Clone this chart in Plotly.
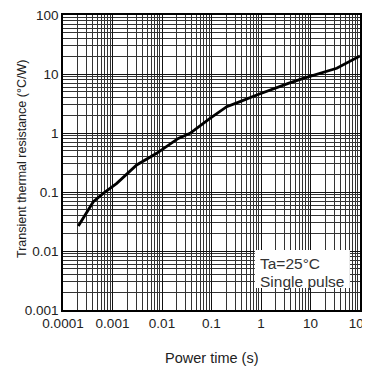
import plotly.graph_objects as go

power_time = [2.04e-4, 4.1e-4, 6.5e-4, 1.22e-3, 3.08e-3, 7.8e-3, 0.0213, 0.0368,
              0.0933, 0.203, 0.377, 0.82, 3.56, 7.16, 33.9, 100]
resistance = [0.0265, 0.0685, 0.095, 0.14, 0.287, 0.453, 0.81, 0.99,
              1.77, 2.79, 3.4, 4.41, 6.95, 8.45, 12.5, 20.2]

x_ticks = [0.0001, 0.001, 0.01, 0.1, 1, 10, 100]
x_labels = ["0.0001", "0.001", "0.01", "0.1", "1", "10", "100"]
y_ticks = [0.001, 0.01, 0.1, 1, 10, 100]
y_labels = ["0.001", "0.01", "0.1", "1", "10", "100"]

fig = go.Figure()
fig.add_trace(go.Scatter(x=power_time, y=resistance, mode="lines",
                         line=dict(color="black", width=2.8),
                         showlegend=False))

font = dict(family="Liberation Sans, Arial, sans-serif", color="#222", size=13.5)

# page body has an 8px margin, so the figure is sized 8px smaller
fig.update_layout(
    width=362, height=363,
    margin=dict(l=55, r=10, t=7, b=61),
    paper_bgcolor="white", plot_bgcolor="white",
    font=font,
    xaxis=dict(type="log", range=[-4, 2], tickvals=x_ticks, ticktext=x_labels,
               automargin=False, ticklabeloverflow="allow",
               showgrid=True, gridcolor="#111", gridwidth=1,
               minor=dict(dtick="D1", showgrid=True, gridcolor="#333", gridwidth=1),
               showline=True, linecolor="black", linewidth=1.5, mirror=True,
               ticks="", ticklen=0),
    yaxis=dict(type="log", range=[-3, 2], tickvals=y_ticks, ticktext=y_labels,
               automargin=False, ticklabeloverflow="allow",
               showgrid=True, gridcolor="#111", gridwidth=1,
               minor=dict(dtick="D1", showgrid=True, gridcolor="#333", gridwidth=1),
               showline=True, linecolor="black", linewidth=1.5, mirror=True,
               ticks="", ticklen=0),
    shapes=[dict(type="rect", xref="paper", yref="paper",
                 x0=0.646, x1=0.966, y0=0.0746, y1=0.203,
                 fillcolor="white", line=dict(width=0), layer="above")],
    annotations=[
        dict(x=0.5, y=-0.163, xref="paper", yref="paper", xanchor="center",
             yanchor="middle", text="Power time (s)", showarrow=False,
             font=dict(size=14.5, color="#222")),
        dict(x=-0.138, y=0.512, xref="paper", yref="paper", xanchor="center",
             yanchor="middle", text="Transient thermal resistance (°C/W)",
             textangle=-90, showarrow=False, font=dict(size=12.5, color="#222")),
        dict(x=0.657, y=0.159, xref="paper", yref="paper", xanchor="left",
             yanchor="middle", text="Ta=25°C", showarrow=False,
             font=dict(size=15.5, color="#333")),
        dict(x=0.657, y=0.098, xref="paper", yref="paper", xanchor="left",
             yanchor="middle", text="Single pulse", showarrow=False,
             font=dict(size=15.5, color="#333")),
    ],
)

fig.write_html("out.html")
